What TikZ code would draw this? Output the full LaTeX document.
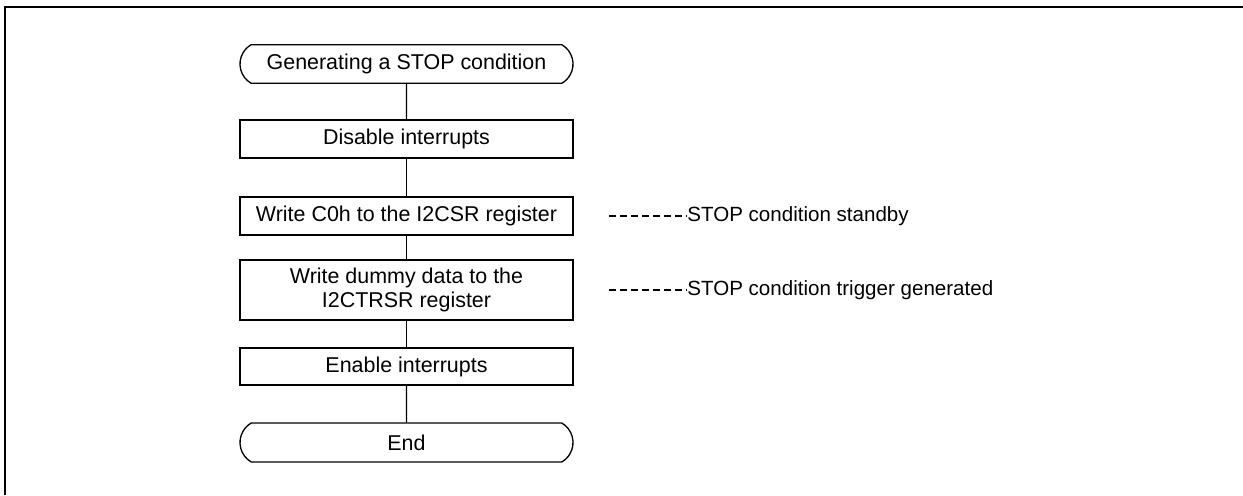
\documentclass[tikz,border=0pt]{standalone}
\usepackage{fontspec}
\setmainfont{Liberation Sans}
\usetikzlibrary{shapes.misc, positioning}

\begin{document}
\begin{tikzpicture}[
    terminal/.style={rounded rectangle, rounded rectangle arc length=120, draw=black, line width=0.75pt, align=center, font=\fontsize{12.2}{13.2}\selectfont, minimum width=6.66cm, minimum height=0.77cm, inner sep=0pt},
    process/.style={rectangle, draw=black, line width=0.75pt, align=center, font=\fontsize{12.2}{13.2}\selectfont, minimum width=6.66cm, minimum height=0.76cm, inner sep=0pt},
    flow/.style={draw=black, line width=0.75pt},
    leader/.style={draw=black, line width=0.9pt, dash pattern=on 0.14cm off 0.08cm},
    note/.style={anchor=west, inner sep=0pt, font=\fontsize{11.7}{13.5}\selectfont}
]

\useasboundingbox (0, 0) rectangle (24.86, -9.9);
\draw[line width=1.1pt] (24.86, -0.14) -- (0.1, -0.14) -- (0.1, -9.9);

\node[terminal] (start) at (8.13, -1.28) {Generating a STOP condition};
\node[process] (disable) at (8.13, -2.78) {Disable interrupts};
\node[process] (csr) at (8.13, -4.32) {Write C0h to the I2CSR register};
\node[process, minimum height=1.2cm] (dummy) at (8.13, -5.80) {Write dummy data to the\\I2CTRSR register};
\node[process, minimum height=0.74cm] (enable) at (8.13, -7.33) {Enable interrupts};
\node[terminal, minimum height=0.78cm] (end) at (8.13, -8.85) {End};

\draw[flow] (start) -- (disable);
\draw[flow] (disable) -- (csr);
\draw[flow] (csr) -- (dummy);
\draw[flow] (dummy) -- (enable);
\draw[flow] (enable) -- (end);

\coordinate (standbyend) at (12.18, -4.32);
\coordinate (triggerend) at (12.18, -5.80);
\node[note] (standby) at (13.74, -4.32) {STOP condition standby};
\node[note] (trigger) at (13.74, -5.80) {STOP condition trigger generated};
\draw[leader] (standbyend) -- (standby.west);
\draw[leader] (triggerend) -- (trigger.west);

\end{tikzpicture}
\end{document}
